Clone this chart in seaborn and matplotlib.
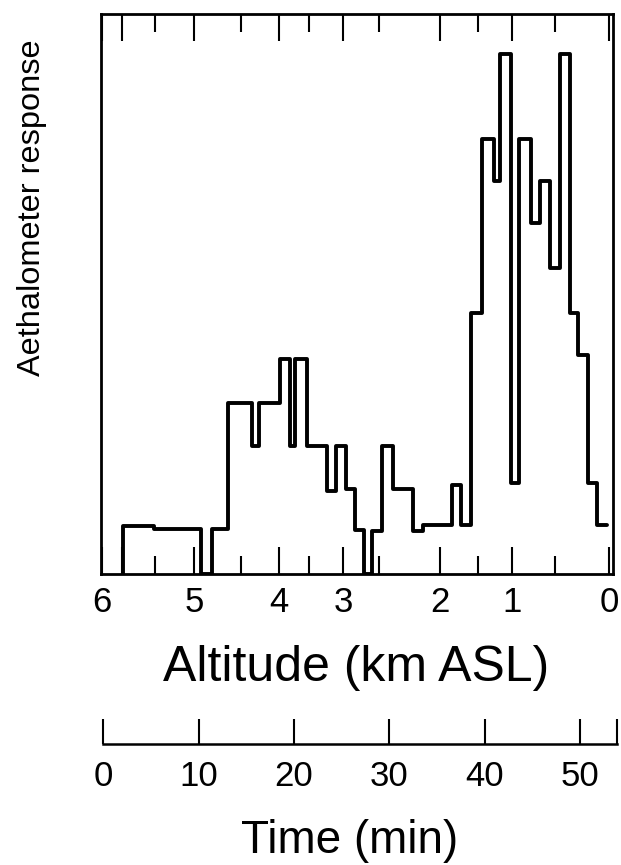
import numpy as np
import pandas as pd
import seaborn as sns
import matplotlib.pyplot as plt

# bin edges along the descent (minutes from start of profile)
edges = [2.34, 5.56, 10.49, 11.62, 13.36, 15.88, 16.61, 18.78, 19.83, 20.36,
         21.65, 23.75, 24.66, 25.66, 26.65, 27.63, 28.41, 29.45, 30.67, 32.71,
         33.82, 36.86, 37.74, 38.79, 39.98, 41.24, 41.87, 42.97, 43.86, 45.09,
         46.07, 47.04, 48.09, 49.21, 50.08, 51.13, 52.01, 53.06]
# aethalometer response per bin (arbitrary units, full scale = 10)
response = [0.86, 0.80, 0.0, 0.80, 3.06, 2.29, 3.06, 3.84, 2.29, 3.84,
            2.29, 1.49, 2.29, 1.52, 0.79, 0.0, 0.77, 2.29, 1.51, 0.76,
            0.875, 1.59, 0.875, 4.66, 7.76, 7.02, 9.28, 1.62, 7.76, 6.27,
            7.02, 5.47, 9.28, 4.66, 3.91, 1.63, 0.875]

# altitude (km ASL) reached at given minutes -> non-linear altitude ticks
alt_labels = ['6', '', '5', '4', '3', '2', '1', '0']
alt_minutes = [0.1, 2.2, 9.76, 18.68, 25.39, 35.57, 43.13, 53.3]
half_km_minutes = [5.67, 14.69, 21.83, 29.17, 39.56, 47.64]

time_ticks = [0, 10, 20, 30, 40, 50, 53.87]
time_labels = ['0', '10', '20', '30', '40', '50', '']

# step outline of the histogram
xs = np.repeat(edges, 2)[:-1]
ys = np.r_[0, np.repeat(response, 2)]
df = pd.DataFrame({'time': xs, 'response': ys})

sns.set_style('ticks')
plt.rcParams['font.family'] = ['Liberation Sans', 'DejaVu Sans']
plt.rcParams['text.color'] = 'black'
plt.rcParams['axes.labelcolor'] = 'black'

fig = plt.figure(figsize=(6.21, 8.65), dpi=100)
ax = fig.add_axes([101 / 621, (865 - 574) / 865, 512 / 621, 560 / 865])

sns.lineplot(data=df, x='time', y='response', sort=False, estimator=None,
             color='black', lw=2.8, solid_joinstyle='round', ax=ax)

ax.set_xlim(0, 53.7)
ax.set_ylim(0, 10)
ax.set_yticks([])
ax.set_xticks(alt_minutes, labels=alt_labels)
ax.set_xticks(half_km_minutes, minor=True)
ax.tick_params(axis='x', which='both', direction='in', top=True, bottom=True,
               width=1.5, labelsize=25, pad=8.6, colors='black')
ax.tick_params(axis='x', which='major', length=19.5)
ax.tick_params(axis='x', which='minor', length=13)
for s in ax.spines.values():
    s.set_linewidth(2)
    s.set_color('black')

ax.set_xlabel('Altitude (km ASL)', fontsize=36)
ax.xaxis.set_label_coords(0.574, 0.2543, transform=fig.transFigure)
ax.set_ylabel('Aethalometer response', fontsize=23.4)
ax.yaxis.set_label_coords(0.0757, 0.7595, transform=fig.transFigure)

# time axis underneath
tax = fig.add_axes([103.3 / 621, (865 - 744) / 865, 513.4 / 621, 0.001])
for side in ['left', 'right', 'top']:
    tax.spines[side].set_visible(False)
tax.spines['bottom'].set_linewidth(1.8)
tax.spines['bottom'].set_color('black')
tax.set_xlim(0, 53.87)
tax.set_yticks([])
tax.set_xticks(time_ticks, labels=time_labels)
tax.tick_params(axis='x', direction='in', length=18, width=1.5,
                labelsize=25, pad=11.6, colors='black')
tax.set_xlabel('Time (min)', fontsize=33)
tax.xaxis.set_label_coords(0.5636, 0.0532, transform=fig.transFigure)

fig.savefig('out.png', dpi=100)
